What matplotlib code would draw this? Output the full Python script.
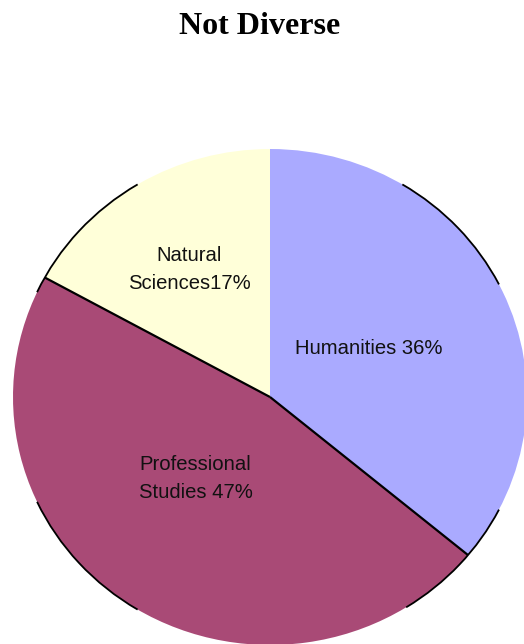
import matplotlib.pyplot as plt
import numpy as np
from matplotlib.patches import Arc

W, H = 524, 644
DPI = 100

CATEGORIES = ["Humanities", "Professional\nStudies", "Natural\nSciences"]
SHARES = [36, 47, 17]
LABELS = ["Humanities 36%", "Professional\nStudies 47%", "Natural\nSciences17%"]
COLORS = ["#AAAAFF", "#A94A76", "#FFFFD9"]

# pie box in pixels (slightly wider than tall, like the original)
CX, CY = 270, 397
RX, RY = 257, 248

LABEL_POS = [(0.385, 0.194), (-0.29, -0.33), (-0.315, 0.515)]
OUTLINE_ARCS = [(27, 59), (121, 155), (205, 239), (302, 333)]


def plot():
    fig = plt.figure(figsize=(W / DPI, H / DPI), dpi=DPI, facecolor="white")
    ax = fig.add_axes([(CX - RX) / W, (H - CY - RY) / H, 2 * RX / W, 2 * RY / H])

    ax.pie(SHARES, colors=COLORS, startangle=90, counterclock=False,
           radius=1, frame=True, wedgeprops=dict(linewidth=0))
    ax.set_aspect("auto")
    ax.set_xlim(-1, 1)
    ax.set_ylim(-1, 1)
    ax.axis("off")

    # black dividers, except the one at 12 o'clock
    bounds = 90 - 360 * np.cumsum(SHARES) / np.sum(SHARES)
    for a in bounds[:-1]:
        t = np.deg2rad(a)
        ax.plot([0, np.cos(t)], [0, np.sin(t)], color="black", lw=1.6,
                solid_capstyle="butt")

    # partial black outline pieces
    for a0, a1 in OUTLINE_ARCS:
        ax.add_patch(Arc((0, 0), 2, 2, theta1=a0, theta2=a1, color="black", lw=1.3))

    for (x, y), txt in zip(LABEL_POS, LABELS):
        ax.text(x, y, txt, ha="center", va="center", fontsize=14.6,
                family="Liberation Sans", linespacing=1.6, color="#111111")

    fig.text(259.5 / W, 1 - 27 / H, "Not Diverse", ha="center", va="center",
             fontsize=23, fontweight="bold", family="Liberation Serif")

    fig.savefig("out.png", dpi=DPI, facecolor="white")


if __name__ == "__main__":
    plot()
